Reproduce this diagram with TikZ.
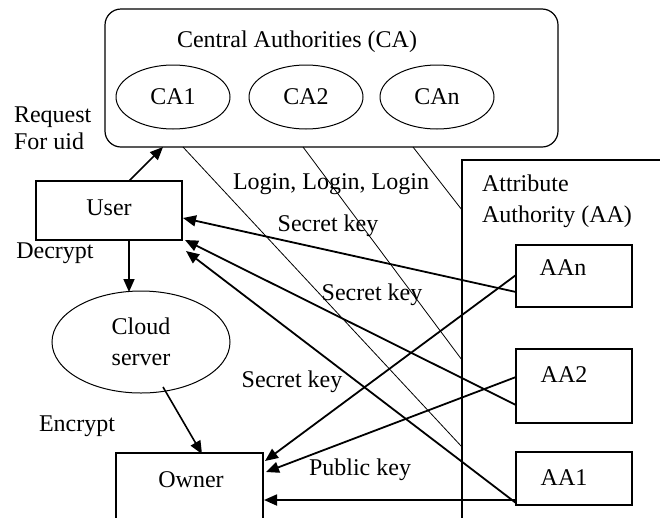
\documentclass[tikz,border=0pt]{standalone}
\usepackage{fontspec}
\setmainfont{Liberation Serif}
\usetikzlibrary{arrows.meta,shapes.geometric}
\begin{document}
\begin{tikzpicture}[x=1pt,y=-1pt,
  every node/.style={inner sep=0pt,outer sep=0pt,font=\fontsize{24}{29}\selectfont},
  box/.style={draw,line width=1.3pt,rectangle},
  oval/.style={draw,line width=1pt,ellipse},
  lbl/.style={align=center},
  keyarrow/.style={line width=1.8pt,-{Triangle[length=13pt,width=11pt]}},
  flow/.style={line width=1.6pt,-{Triangle[length=13pt,width=11pt]}},
  login/.style={line width=0.8pt}]
\useasboundingbox (0,0) rectangle (660,517);
\clip (0,0) rectangle (660,517);

% Central authorities
\node[draw,line width=1.2pt,rounded corners=16pt,minimum width=453pt,minimum height=138pt] (ca) at (331.5,78) {};
\node[lbl] (catitle) at (297,42) {Central Authorities (CA)};
\node[oval,minimum width=114pt,minimum height=64pt] (ca1) at (173,97) {CA1};
\node[oval,minimum width=114pt,minimum height=64pt] (ca2) at (306,97) {CA2};
\node[oval,minimum width=114pt,minimum height=64pt] (can) at (437,97) {CAn};

% User side
\node[box,minimum width=146pt,minimum height=59pt] (user) at (109,210.5) {};
\node (usertxt) at (109,208) {User};
\node[anchor=west,align=left,font=\fontsize{24}{27}\selectfont] (req) at (14,128) {Request\\For uid};
\node (decrypt) at (55,253) {Decrypt};
\node[oval,minimum width=178pt,minimum height=102pt,align=center,font=\fontsize{24}{31}\selectfont] (cloud) at (141,342) {Cloud\\server};
\node (encrypt) at (77,426) {Encrypt};
\node[box,minimum width=147pt,minimum height=120pt] (owner) at (189.5,513) {};
\node (ownertxt) at (191,480) {Owner};

% Attribute authorities
\node[box,minimum width=218pt,minimum height=400pt] (aa) at (571,360) {};
\node[anchor=west,align=left,font=\fontsize{24}{31}\selectfont] (aatitle) at (482,201) {Attribute\\Authority (AA)};
\node[box,minimum width=116pt,minimum height=62pt] (aan) at (574,276) {};
\node (aantxt) at (563,268) {AAn};
\node[box,minimum width=116pt,minimum height=74pt] (aa2) at (574,386) {};
\node (aa2txt) at (564,375) {AA2};
\node[box,minimum width=116pt,minimum height=53pt] (aa1) at (574,478.5) {};
\node (aa1txt) at (564,478) {AA1};

% attachment points
\coordinate (caL1) at (183,147);
\coordinate (caL2) at (303,147);
\coordinate (caL3) at (413,147);
\coordinate (aaL1) at (462,447);
\coordinate (aaL2) at (462,360);
\coordinate (aaL3) at (462,210);
\coordinate (uTop) at (129,181);
\coordinate (caIn) at (163,147);
\coordinate (uBot) at (129,240);
\coordinate (cTop) at (129,292);
\coordinate (cOut) at (163,387);
\coordinate (oTop) at (202,454);
\coordinate (uK1) at (183,218);
\coordinate (uK2) at (185,240);
\coordinate (uK3) at (186,251);
\coordinate (oK1) at (265,461);
\coordinate (oK2) at (266,472);
\coordinate (oK3) at (264,500);
\coordinate (aanU) at (516,292);
\coordinate (aanO) at (516,275);
\coordinate (aa2U) at (516,405);
\coordinate (aa2O) at (516,377);
\coordinate (aa1U) at (516,503);
\coordinate (aa1O) at (516,500);

% login lines
\draw[login] (caL1) -- (aaL1);
\draw[login] (caL2) -- (aaL2);
\draw[login] (caL3) -- (aaL3);

% user / cloud / owner flow
\draw[flow] (uTop) -- (caIn);
\draw[flow] (uBot) -- (cTop);
\draw[flow] (cOut) -- (oTop);

% secret keys to user
\draw[keyarrow] (aanU) -- (uK1);
\draw[keyarrow] (aa2U) -- (uK2);
\draw[keyarrow] (aa1U) -- (uK3);

% public keys to owner
\draw[keyarrow] (aanO) -- (oK1);
\draw[keyarrow] (aa2O) -- (oK2);
\draw[keyarrow] (aa1O) -- (oK3);

% connector labels
\node (login) at (331,184) {Login, Login, Login};
\node (sk1) at (328,226) {Secret key};
\node (sk2) at (372,295) {Secret key};
\node (sk3) at (292,382) {Secret key};
\node (pk) at (360,470) {Public key};
\end{tikzpicture}
\end{document}
